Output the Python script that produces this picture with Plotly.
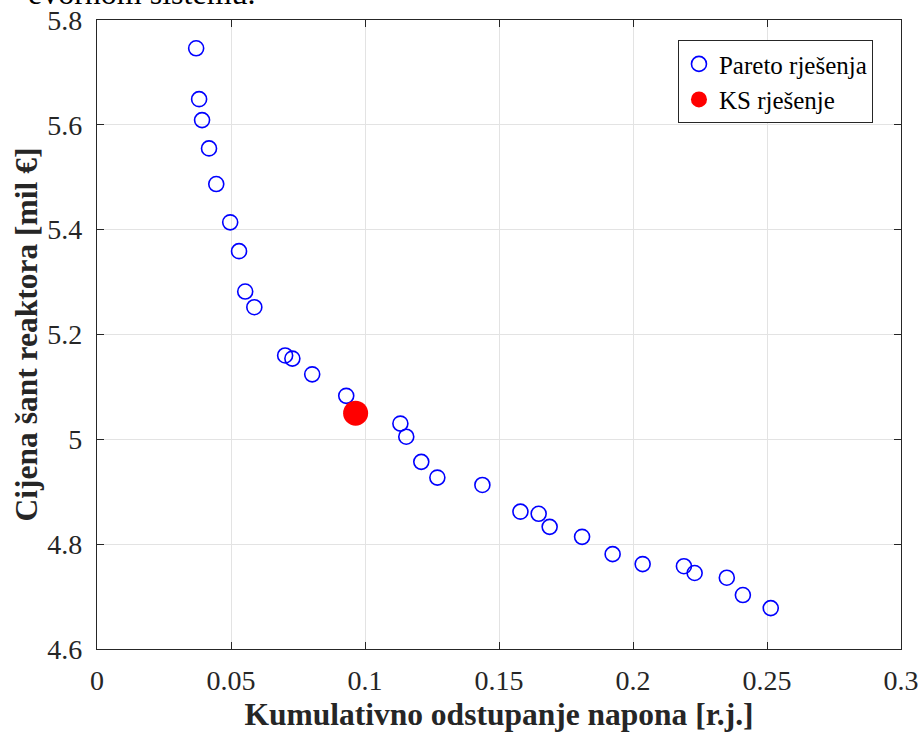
import plotly.graph_objects as go

# Pareto front: cumulative voltage deviation vs. shunt reactor cost
pareto_dev = [0.0370, 0.0381, 0.0392, 0.0418, 0.0445, 0.0497, 0.0530, 0.0553, 0.0587,
              0.0702, 0.0729, 0.0803, 0.0930, 0.1132, 0.1154, 0.1210, 0.1270, 0.1438,
              0.1580, 0.1648, 0.1689, 0.1810, 0.1924, 0.2036, 0.2190, 0.2230, 0.2350,
              0.2410, 0.2514]
pareto_cost = [5.746, 5.649, 5.609, 5.555, 5.487, 5.414, 5.359, 5.282, 5.252,
               5.160, 5.154, 5.124, 5.083, 5.030, 5.005, 4.957, 4.927, 4.913,
               4.862, 4.858, 4.833, 4.814, 4.781, 4.762, 4.758, 4.745, 4.736,
               4.703, 4.678]

# Compromise (KS) solution
ks_dev = [0.0965]
ks_cost = [5.050]

x_ticks = [0, 0.05, 0.1, 0.15, 0.2, 0.25, 0.3]
x_tick_text = ["0", "0.05", "0.1", "0.15", "0.2", "0.25", "0.3"]
y_ticks = [4.6, 4.8, 5.0, 5.2, 5.4, 5.6, 5.8]
y_tick_text = ["4.6", "4.8", "5", "5.2", "5.4", "5.6", "5.8"]

FONT = "Liberation Serif, Times New Roman, serif"
INK = "#262626"

fig = go.Figure()
fig.add_trace(go.Scatter(
    x=pareto_dev, y=pareto_cost, mode="markers", name="Pareto rješenja",
    marker=dict(symbol="circle-open", size=15, color="#0000ff", line=dict(width=1.6, color="#0000ff")),
))
fig.add_trace(go.Scatter(
    x=ks_dev, y=ks_cost, mode="markers", name="KS rješenje",
    marker=dict(symbol="circle", size=25, color="#ff0000", line=dict(width=0)),
))

axis_common = dict(
    showline=True, linecolor=INK, linewidth=1.2, mirror="ticks",
    ticks="inside", ticklen=7, tickwidth=1.2, tickcolor=INK,
    showgrid=True, gridcolor="#e3e3e3", gridwidth=1,
    zeroline=False, automargin=False,
    tickfont=dict(family=FONT, size=28, color=INK),
)

fig.update_xaxes(
    range=[0, 0.3], tickvals=x_ticks, ticktext=x_tick_text,
    title=dict(text="<b>Kumulativno odstupanje napona [r.j.]</b>",
               font=dict(family=FONT, size=31.5, color=INK), standoff=10),
    ticklabelstandoff=6, **axis_common,
)
fig.update_yaxes(
    range=[4.6, 5.8], tickvals=y_ticks, ticktext=y_tick_text,
    title=dict(text="<b>Cijena šant reaktora [mil €]</b>",
               font=dict(family=FONT, size=31.5, color=INK), standoff=0),
    ticklabelstandoff=8, **axis_common,
)

fig.add_annotation(
    text="evornom sistemu.", xref="paper", yref="paper", x=-0.088, y=1.011,
    xanchor="left", yanchor="bottom", showarrow=False,
    font=dict(family=FONT, size=32, color="#000000"),
)

fig.update_layout(
    width=919, height=732,
    margin=dict(l=97, r=18, t=20, b=83),
    paper_bgcolor="white", plot_bgcolor="white",
    font=dict(family=FONT, color=INK),
    legend=dict(
        x=0.7226, y=0.968, xanchor="left", yanchor="top",
        bgcolor="white", bordercolor=INK, borderwidth=1,
        font=dict(family=FONT, size=25, color="#000000"),
        itemsizing="trace", tracegroupgap=0, itemwidth=30,
    ),
)

fig.write_html("out.html")
